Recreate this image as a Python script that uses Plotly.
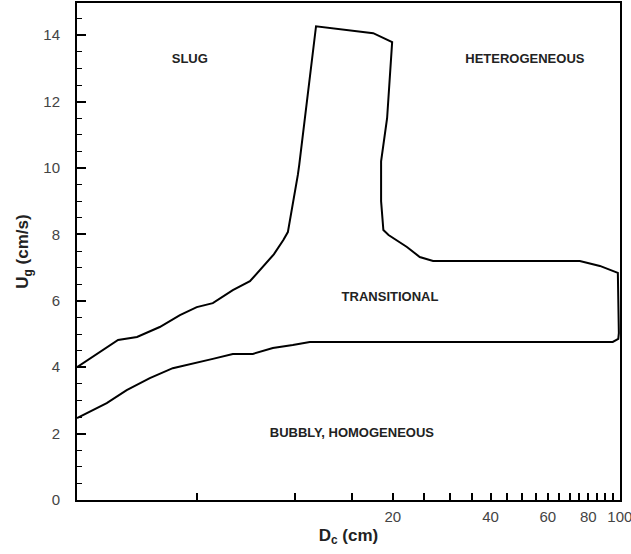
import plotly.graph_objects as go

# Regime boundary (closed path): upper boundary left->right, then lower boundary right->left
boundary_dc = [2.13, 2.85, 3.26, 3.83, 4.42, 4.98, 5.58, 6.43, 7.26, 7.96, 8.6, 9.2, 9.5,
               10.2, 10.3, 11.6, 17.4, 19.9, 19.2, 18.4, 18.4, 18.7, 19.4, 22.1, 24.2, 26.6,
               75.3, 86.8, 98.6, 99.3, 98.9, 95.1,
               40.0, 11.1, 9.84, 8.54, 7.41, 6.43, 5.58, 4.84, 4.20, 3.57, 3.03, 2.63, 2.13]
boundary_ug = [4.00, 4.82, 4.91, 5.21, 5.57, 5.81, 5.93, 6.32, 6.59, 7.02, 7.40, 7.83, 8.07,
               9.80, 10.10, 14.27, 14.06, 13.79, 11.5, 10.2, 9.0, 8.13, 7.98, 7.62, 7.32, 7.20,
               7.20, 7.05, 6.84, 5.03, 4.85, 4.76,
               4.76, 4.76, 4.67, 4.58, 4.40, 4.40, 4.25, 4.10, 3.97, 3.67, 3.31, 2.92, 2.47]

region_labels = ["SLUG", "HETEROGENEOUS", "TRANSITIONAL", "BUBBLY, HOMOGENEOUS"]
label_dc = [4.74, 51.0, 19.6, 14.96]
label_ug = [13.25, 13.25, 6.08, 1.99]

x_major = [20, 40, 60, 80, 100]
x_minor = [5, 10, 15, 25, 30, 35, 45, 50, 55, 65, 70, 75, 85, 90, 95]

x_ticks = sorted(x_major + x_minor)
x_ticktext = [str(v) if v in x_major else "" for v in x_ticks]

fig = go.Figure()
fig.add_trace(go.Scatter(x=boundary_dc, y=boundary_ug, mode="lines",
                         line=dict(color="black", width=2), showlegend=False,
                         hoverinfo="skip"))
fig.add_trace(go.Scatter(x=label_dc, y=label_ug, mode="text", text=region_labels,
                         textfont=dict(family="Liberation Sans, Arial", size=13,
                                       color="#222", weight="bold"),
                         showlegend=False, hoverinfo="skip"))

fig.update_layout(
    width=631, height=554,
    margin=dict(l=77, r=11, t=3, b=54),
    paper_bgcolor="white", plot_bgcolor="white",
    font=dict(family="Liberation Sans, Arial", color="#333"),
    xaxis=dict(
        type="log", range=[0.3284, 2.0005], automargin=False,
        tickmode="array", tickvals=x_ticks, ticktext=x_ticktext,
        ticks="inside", ticklen=7, tickwidth=1.5, tickcolor="black",
        showline=True, linewidth=2, linecolor="black", mirror=True,
        showgrid=False, zeroline=False, ticklabeloverflow="allow",
        tickfont=dict(size=15, color="#444"), ticklabelstandoff=2,
        title=dict(text="<b>D<sub>c</sub> (cm)</b>", font=dict(size=17, color="#222"), standoff=5),
    ),
    yaxis=dict(
        range=[0, 14.97], tickmode="linear", tick0=0, dtick=2, automargin=False,
        ticks="inside", ticklen=9, tickwidth=1.5, tickcolor="black",
        showline=True, linewidth=2, linecolor="black", mirror=True,
        showgrid=False, zeroline=False,
        tickfont=dict(size=15, color="#444"), ticklabelstandoff=12,
        minor=dict(dtick=0.5, ticks="inside", ticklen=5, tickwidth=1.2,
                   tickcolor="black", showgrid=False),
        title=dict(text="<b>U<sub>g</sub> (cm/s)</b>", font=dict(size=17, color="#222"), standoff=10),
    ),
)

fig.write_html("out.html")
